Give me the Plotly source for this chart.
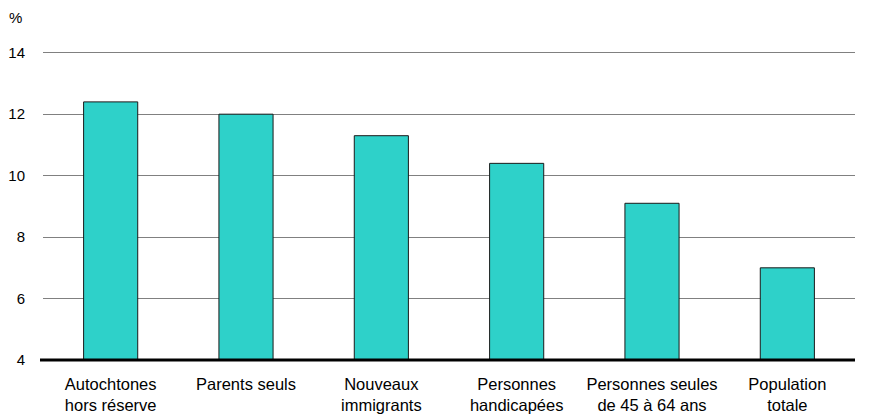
import plotly.graph_objects as go

# categories and values
categories = [
    "Autochtones<br>hors réserve",
    "Parents seuls",
    "Nouveaux<br>immigrants",
    "Personnes<br>handicapées",
    "Personnes seules<br>de 45 à 64 ans",
    "Population<br>totale",
]
rates = [12.4, 12.0, 11.3, 10.4, 9.1, 7.0]
y_ticks = [4, 6, 8, 10, 12, 14]

fig = go.Figure()

fig.add_trace(go.Bar(
    x=categories,
    y=rates,
    base=0,
    width=0.4,
    marker=dict(color="#2ED1C9", line=dict(color="#1a1a1a", width=1)),
    showlegend=False,
    hoverinfo="skip",
))

# thick baseline at the bottom of the axis (paper ref so it is not clipped)
fig.add_shape(type="line", xref="paper", yref="paper", x0=-3/812, x1=1, y0=0, y1=0,
              line=dict(color="black", width=3), layer="above")

# page body adds an 8px offset, so the figure is a bit smaller than the window
fig.update_layout(
    width=862,
    height=410,
    margin=dict(l=35, r=15, t=14, b=58),
    plot_bgcolor="white",
    paper_bgcolor="white",
    font=dict(family="Liberation Sans, Arial, sans-serif", size=16, color="black"),
    xaxis=dict(
        showgrid=False,
        showline=False,
        ticks="",
        automargin=False,
        ticklabelstandoff=12,
        tickfont=dict(size=16.5),
    ),
    yaxis=dict(
        range=[4, 15],
        tickvals=y_ticks,
        showgrid=True,
        gridcolor="#808080",
        gridwidth=1,
        zeroline=False,
        showline=False,
        ticks="",
        automargin=False,
        ticklabelstandoff=17,
        tickfont=dict(size=15),
    ),
    annotations=[dict(
        text="%", xref="paper", yref="paper", x=-35/812, y=1 + 14/338,
        xanchor="left", yanchor="top", showarrow=False,
        font=dict(size=15), borderpad=0,
    )],
)

fig.write_html("out.html")
